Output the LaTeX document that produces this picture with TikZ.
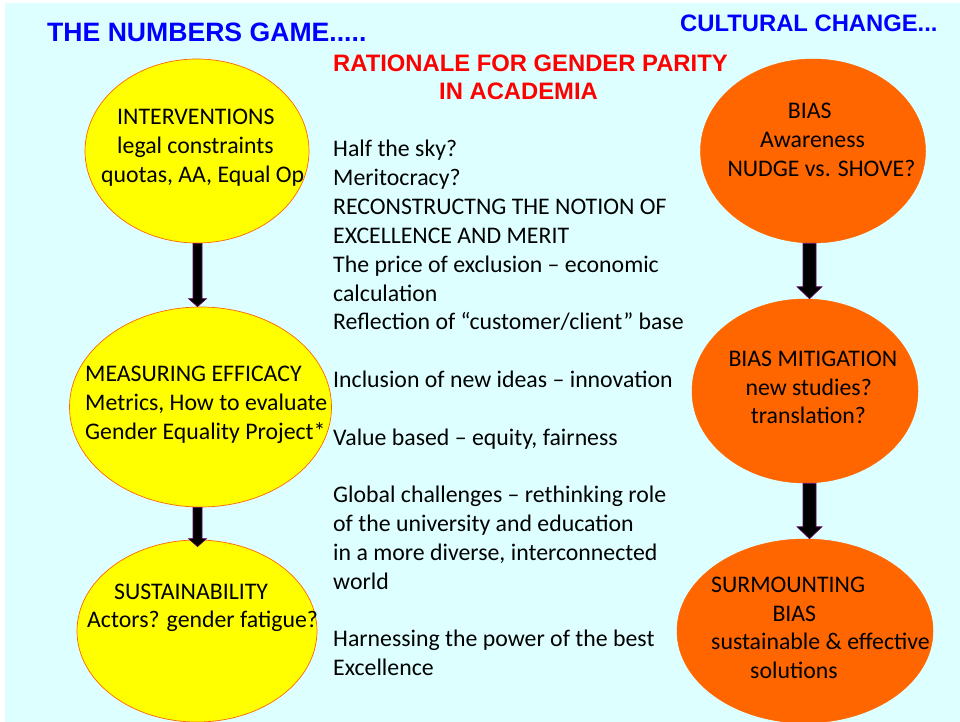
\documentclass[tikz,border=0pt]{standalone}
\usepackage{fontspec}
\setmainfont{Carlito}
\newfontfamily\titlefont{Liberation Sans}
\usetikzlibrary{shapes.geometric,calc}
\definecolor{bgcyan}{RGB}{221,255,255}
\definecolor{ttlblue}{RGB}{0,0,255}
\definecolor{ttlred}{RGB}{255,0,0}
\definecolor{ovyellow}{RGB}{255,255,0}
\definecolor{ovorange}{RGB}{255,102,0}
\definecolor{arrpurple}{RGB}{102,0,102}
\newcommand\blockarr[5]{% start, end, shaft half width, head half width, head length
  \filldraw[fill=black, draw=arrpurple, line width=0.6pt, line join=miter]
    ($#1+(-#3,0)$) -- ($#2+(-#3,-#5)$) -- ($#2+(-#4,-#5)$) -- #2
    -- ($#2+(#4,-#5)$) -- ($#2+(#3,-#5)$) -- ($#1+(#3,0)$) -- cycle;}
\begin{document}
\begin{tikzpicture}[x=1pt,y=-1pt,
  yellowoval/.style={ellipse, draw=ovorange, line width=0.7pt, fill=ovyellow, inner sep=0pt},
  orangeoval/.style={ellipse, draw=ovorange, line width=0.5pt, fill=ovorange, inner sep=0pt},
  body/.style={inner sep=0pt, anchor=base west, font=\fontsize{23.8}{28.8}\selectfont},
  ttl/.style={inner sep=0pt, anchor=base west, font=\titlefont\bfseries\fontsize{23.8}{28}\selectfont}]
\useasboundingbox (0,0) rectangle (960,722);
\fill[white] (0,0) rectangle (960,722);
\fill[bgcyan] (5,3) rectangle (960,722);

% titles
\node[ttl, text=ttlblue, font=\titlefont\bfseries\fontsize{26.6}{30}\selectfont] (t1) at (47,42) {THE NUMBERS GAME.....};
\node[ttl, text=ttlblue] (t2) at (680,32) {CULTURAL CHANGE...};
\node[ttl, text=ttlred] (t3) at (333,72) {RATIONALE FOR GENDER PARITY};
\node[ttl, text=ttlred] (t4) at (439,100) {IN ACADEMIA};

% ovals
\node[yellowoval, minimum width=224pt, minimum height=184pt] (e1) at (197,151) {};
\node[yellowoval, minimum width=262pt, minimum height=200pt] (e2) at (200.5,407) {};
\node[yellowoval, minimum width=240pt, minimum height=182pt] (e3) at (197,631) {};
\node[orangeoval, minimum width=225pt, minimum height=184pt] (o1) at (813,151) {};
\node[orangeoval, minimum width=226pt, minimum height=184pt] (o2) at (805,391) {};
\node[orangeoval, minimum width=256pt, minimum height=184pt] (o3) at (805,631) {};

% arrows
\blockarr{(e1.south -| 197.5,0)}{(e2.north -| 197.5,0)}{4.5}{9}{8}
\blockarr{(e2.south -| 197.5,0)}{($(e3.north -| 197.5,0)+(0,7)$)}{4.5}{9}{8}
\blockarr{(o1.south -| 809.5,0)}{(o2.north -| 809.5,0)}{6.5}{12.5}{12}
\blockarr{(o2.south -| 809.5,0)}{(o3.north -| 809.5,0)}{6.5}{12.5}{12}

% oval texts
\node[body] (e1a) at (117,125) {INTERVENTIONS};
\node[body] (e1b) at (117,153.8) {legal constraints};
\node[body] (e1c) at (101,182.6) {quotas, AA, Equal Op};
\node[body] (e2a) at (85,381.5) {MEASURING EFFICACY};
\node[body] (e2b) at (85,410.3) {Metrics, How to evaluate};
\node[body] (e2c) at (85,439.1) {Gender Equality Project*};
\node[body] (e3a) at (114,599) {SUSTAINABILITY};
\node[body] (e3b) at (87,627.8) {Actors? gender fatigue?};
\node[body] (o1a) at (787.7,119) {BIAS};
\node[body] (o1b) at (760,147.5) {Awareness};
\node[body] (o1c) at (727.3,176) {NUDGE vs. SHOVE?};
\node[body] (o2a) at (728.3,366.8) {BIAS MITIGATION};
\node[body] (o2b) at (745.3,395.3) {new studies?};
\node[body] (o2c) at (750.7,423.8) {translation?};
\node[body] (o3a) at (711,592.3) {SURMOUNTING};
\node[body] (o3b) at (772.3,621) {BIAS};
\node[body] (o3c) at (711,649.7) {sustainable \& effective};
\node[body] (o3d) at (750,678.4) {solutions};

% middle column
\foreach \yy/\txt [count=\i] in {157/{Half the sky?},
  185.8/{Meritocracy?},
  214.6/{RECONSTRUCTNG THE NOTION OF},
  243.4/{EXCELLENCE AND MERIT},
  272.2/{The price of exclusion – economic},
  301/{calculation},
  329.8/{Reflection of “customer/client” base},
  387.4/{Inclusion of new ideas – innovation},
  445/{Value based – equity, fairness},
  502.6/{Global challenges – rethinking role},
  531.4/{of the university and education},
  560.2/{in a more diverse, interconnected},
  589/{world},
  646.6/{Harnessing the power of the best},
  675.4/{Excellence}}
  \node[body] (m\i) at (333,\yy) {\txt};
\end{tikzpicture}
\end{document}
